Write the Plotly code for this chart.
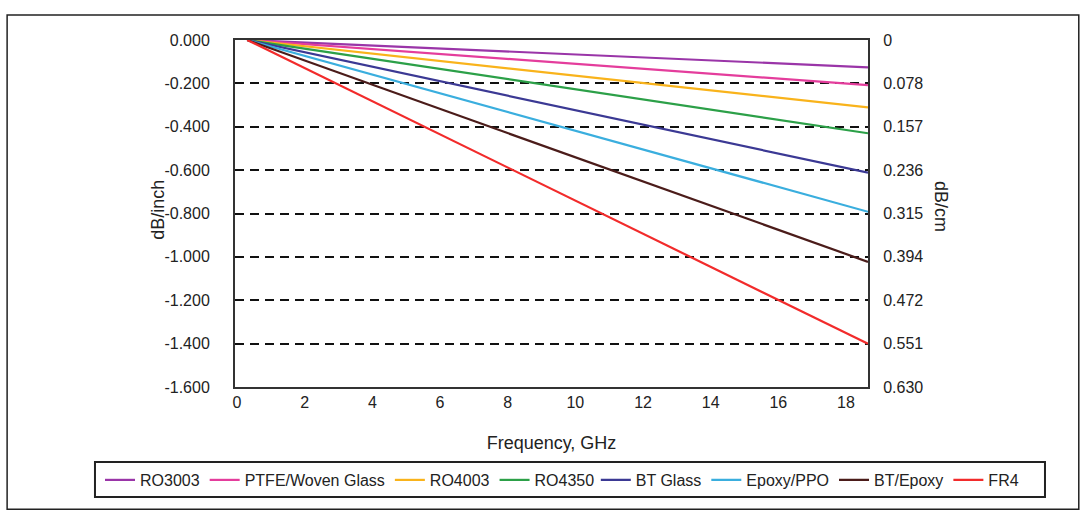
import plotly.graph_objects as go

# ---- data ----
materials = ["RO3003", "PTFE/Woven Glass", "RO4003", "RO4350",
             "BT Glass", "Epoxy/PPO", "BT/Epoxy", "FR4"]
colors = ["#9a35a8", "#e43d9c", "#f9b31b", "#2ca048",
          "#3b3994", "#3aaede", "#4b1c1a", "#f22b2b"]
freq_ghz = [0.3, 18.65]
loss_db_per_inch = {
    "RO3003": [0.0, -0.126],
    "PTFE/Woven Glass": [0.0, -0.208],
    "RO4003": [0.0, -0.311],
    "RO4350": [0.0, -0.430],
    "BT Glass": [0.0, -0.612],
    "Epoxy/PPO": [0.0, -0.792],
    "BT/Epoxy": [0.0, -1.023],
    "FR4": [0.0, -1.401],
}
left_ticks = [0.0, -0.2, -0.4, -0.6, -0.8, -1.0, -1.2, -1.4, -1.6]
left_ticktext = ["0.000", "-0.200", "-0.400", "-0.600", "-0.800",
                 "-1.000", "-1.200", "-1.400", "-1.600"]
right_ticktext = ["0", "0.078", "0.157", "0.236", "0.315",
                  "0.394", "0.472", "0.551", "0.630"]
x_ticks = [0, 2, 4, 6, 8, 10, 12, 14, 16, 18]

FONT = "Liberation Sans, Arial, sans-serif"

fig = go.Figure()
for i, (name, col) in enumerate(zip(materials, colors)):
    fig.add_trace(go.Scatter(x=freq_ghz, y=loss_db_per_inch[name], mode="lines",
                             name=name, line=dict(color=col, width=2.2),
                             legend="legend" if i < 4 else "legend2"))

# invisible trace so the secondary (dB/cm) axis is drawn
fig.add_trace(go.Scatter(x=[0], y=[0], yaxis="y2", mode="lines", opacity=0,
                         showlegend=False, hoverinfo="skip"))

right_ticks = [-v / 2.54 for v in left_ticks]

legend_common = dict(orientation="h", yanchor="middle", y=-0.268, xanchor="left",
                     bgcolor="rgba(0,0,0,0)", borderwidth=0, font=dict(size=16),
                     itemwidth=30, tracegroupgap=0)

fig.update_layout(
    width=1086, height=512,
    margin=dict(l=235, r=218, t=40, b=125, autoexpand=False),
    paper_bgcolor="white", plot_bgcolor="white",
    font=dict(family=FONT, size=16, color="#222"),
    xaxis=dict(range=[-0.06, 18.65], tickvals=x_ticks, showgrid=False,
               zeroline=False, showline=True, linecolor="#333", linewidth=2,
               mirror=True, ticks="",
               title=dict(text="Frequency, GHz", font=dict(size=18), standoff=26)),
    yaxis=dict(range=[-1.6, 0], tickvals=left_ticks, ticktext=left_ticktext,
               showgrid=True, gridcolor="#111", gridwidth=2, griddash="9px,6px",
               zeroline=False, showline=True, linecolor="#333", linewidth=2,
               mirror=True, ticks="outside", ticklen=20, tickcolor="rgba(0,0,0,0)"),
    yaxis2=dict(overlaying="y", side="right", range=[1.6 / 2.54, 0],
                tickvals=right_ticks, ticktext=right_ticktext, showgrid=False,
                zeroline=False, showline=False, ticks="outside", ticklen=11,
                tickcolor="rgba(0,0,0,0)"),
    legend=dict(x=-0.2133, **legend_common),
    legend2=dict(x=0.570, **legend_common),
    showlegend=True,
)

fig.add_annotation(text="dB/inch", xref="paper", yref="paper", x=-0.141, y=0.51,
                   textangle=-90, showarrow=False, font=dict(size=18))
fig.add_annotation(text="dB/cm", xref="paper", yref="paper", x=1.135, y=0.52,
                   textangle=90, showarrow=False, font=dict(size=18))

# box around the legend entries
fig.add_shape(type="rect", xref="paper", yref="paper",
              x0=-0.2212, x1=1.2796, y0=-0.317, y1=-0.216,
              line=dict(color="#222", width=2))
# outer frame around the whole figure
fig.add_shape(type="rect", xref="paper", yref="paper",
              x0=-0.360, x1=1.333, y0=-0.352, y1=1.072,
              line=dict(color="#222", width=1.5))

fig.write_html("out.html")
